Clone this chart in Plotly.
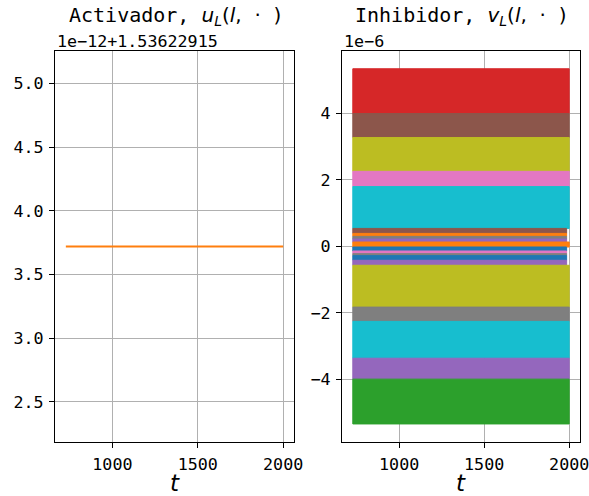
import plotly.graph_objects as go

# Time window of the simulation
t_start = 727.5
t_end = 2000.0

# Activator: constant value, stored as offset (units of 1e-12) above 1.53622915
u_offset = 3.72
u_base_label = "1e\u221212+1.53622915"

# Inhibitor: oscillation envelope of each series (units of 1e-6), top to bottom
band_colors = ["#d62728", "#8c564b", "#bcbd22", "#e377c2", "#17becf",
               "#8c564b", "#ff7f0e", "#7f7f7f", "#9467bd", "#ff7f0e",
               "#1f77b4", "#e377c2", "#7f7f7f", "#1f77b4", "#9467bd",
               "#bcbd22", "#7f7f7f", "#17becf", "#9467bd", "#2ca02c"]
band_lo = [4.00, 3.28, 2.26, 1.80, 0.54,
           0.39, 0.30, 0.22, 0.13, -0.02,
           -0.14, -0.22, -0.28, -0.42, -0.57,
           -1.83, -2.26, -3.37, -4.00, -5.35]
band_hi = [5.35, 4.00, 3.28, 2.26, 1.80,
           0.54, 0.39, 0.30, 0.22, 0.13,
           -0.02, -0.14, -0.22, -0.28, -0.42,
           -0.57, -1.83, -2.26, -3.37, -4.00]
band_end = [2000, 2000, 2000, 2000, 2000,
            1985, 1985, 1985, 1985, 2000,
            1985, 1985, 1985, 1985, 1985,
            2000, 2000, 2000, 2000, 2000]

x_ticks = [1000, 1500, 2000]
u_ticks = [2.5, 3.0, 3.5, 4.0, 4.5, 5.0]
v_ticks = [-4, -2, 0, 2, 4]
v_tick_text = ["\u22124", "\u22122", "0", "2", "4"]

W, H = 589, 496
mono = "DejaVu Sans Mono"
math_font = "DejaVu Sans"

fig = go.Figure()

fig.add_trace(go.Scatter(
    x=[t_start, t_end], y=[u_offset, u_offset], mode="lines",
    line=dict(color="#ff7f0e", width=2), xaxis="x", yaxis="y",
    showlegend=False, hoverinfo="skip"))

for c, lo, hi, te in zip(band_colors, band_lo, band_hi, band_end):
    fig.add_trace(go.Scatter(
        x=[t_start, te, te, t_start, t_start],
        y=[lo, lo, hi, hi, lo],
        mode="lines", fill="toself", fillcolor=c,
        line=dict(color=c, width=1),
        xaxis="x2", yaxis="y2", showlegend=False, hoverinfo="skip"))


def px_x(p):
    return p / W


def px_y(p):
    return 1 - p / H


axis_common = dict(
    showline=True, mirror=True, linecolor="black", linewidth=1.1,
    showgrid=True, gridcolor="#b0b0b0", gridwidth=1.1,
    ticks="outside", ticklen=5, tickwidth=1.1, tickcolor="black",
    tickfont=dict(family=mono, size=16.7, color="black"),
    zeroline=False, automargin=False, ticklabeloverflow="allow",
)

x_range = [664, 2063.6]
left_dom = [px_x(55), px_x(294)]
right_dom = [px_x(342), px_x(580)]
y_dom = [px_y(441.7), px_y(51)]

fig.update_layout(
    width=W, height=H, autosize=False,
    margin=dict(l=0, r=0, t=0, b=0),
    paper_bgcolor="white", plot_bgcolor="white",
    xaxis=dict(domain=left_dom, range=x_range, tickvals=x_ticks,
               anchor="y", ticklabelstandoff=2, **axis_common),
    yaxis=dict(domain=y_dom, range=[2.188, 5.254], tickvals=u_ticks,
               ticktext=[f"{v:.1f}" for v in u_ticks], anchor="x",
               ticklabelstandoff=2, **axis_common),
    xaxis2=dict(domain=right_dom, range=x_range, tickvals=x_ticks,
                anchor="y2", ticklabelstandoff=2, **axis_common),
    yaxis2=dict(domain=y_dom, range=[-5.885, 5.885], tickvals=v_ticks,
                ticktext=v_tick_text, anchor="x2", ticklabelstandoff=2,
                **axis_common),
)

sp = "\u00a0"
math_tpl = ('<span style="font-family:DejaVu Sans">'
            '<i>{v}</i><sub><i>L</i></sub>(<i>l</i>,' + sp * 2 + '\u00b7' + sp * 2 + ')</span>')
titles = [
    ("Activador, " + math_tpl.format(v="u"), left_dom),
    ("Inhibidor, " + math_tpl.format(v="v"), right_dom),
]
for text, dom in titles:
    fig.add_annotation(
        text=text, xref="paper", yref="paper",
        x=(dom[0] + dom[1]) / 2, y=px_y(16), xanchor="center", yanchor="middle",
        showarrow=False, font=dict(family=mono, size=20, color="black"))

# Offset / scale labels above each y axis
for text, dom in [(u_base_label, left_dom), ("1e\u22126", right_dom)]:
    fig.add_annotation(
        text=text, xref="paper", yref="paper",
        x=dom[0], y=px_y(41), xanchor="left", yanchor="middle",
        showarrow=False, font=dict(family=mono, size=16.7, color="black"))

# x-axis labels
for dom in [left_dom, right_dom]:
    fig.add_annotation(
        text="<i>t</i>", xref="paper", yref="paper",
        x=(dom[0] + dom[1]) / 2, y=px_y(483), xanchor="center", yanchor="middle",
        showarrow=False, font=dict(family=math_font, size=23, color="black"))

fig.write_html(
    "out.html",
    config={"responsive": False, "displayModeBar": False},
    post_script="document.body.style.margin='0';document.body.style.overflow='hidden';",
)
